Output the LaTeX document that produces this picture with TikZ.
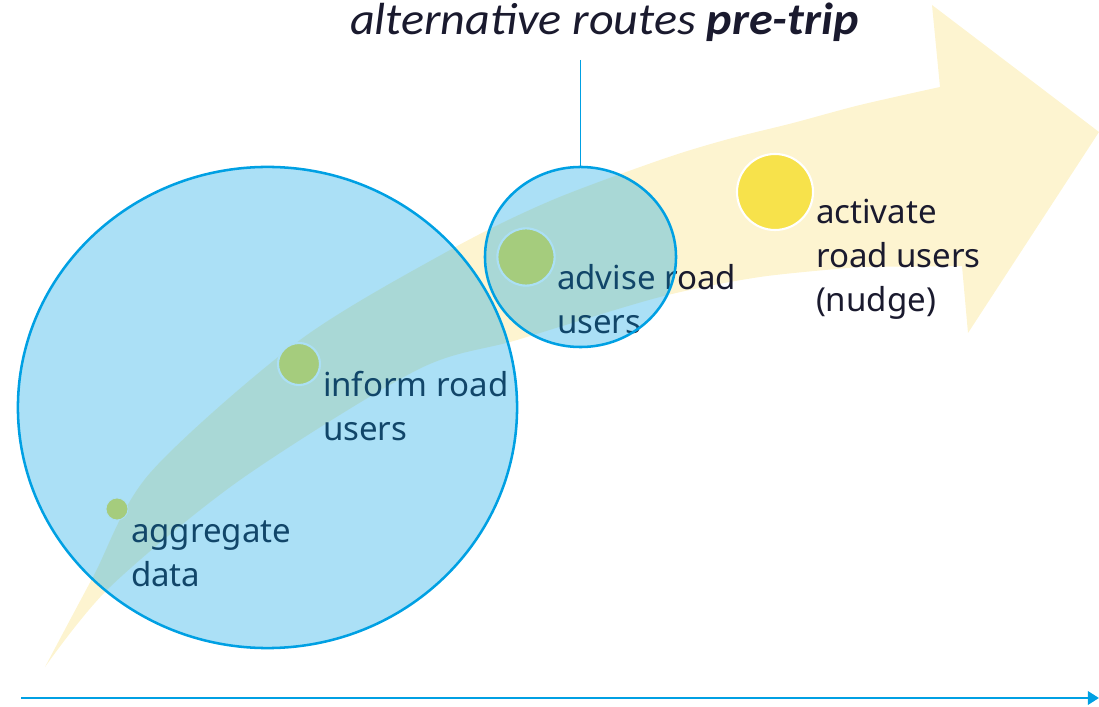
\documentclass[tikz,border=0pt]{standalone}
\usepackage{fontspec}
\setmainfont{Noto Sans}
\newfontfamily\titlefont[FakeStretch=1.07]{Carlito}
\usetikzlibrary{shapes.geometric,arrows.meta}
\definecolor{bandyellow}{RGB}{253,244,208}
\definecolor{ringblue}{RGB}{0,160,227}
\definecolor{dotyellow}{RGB}{247,226,75}
\definecolor{labelnavy}{RGB}{26,26,46}
\begin{document}
\begin{tikzpicture}[x=0.025cm,y=-0.025cm,
    every node/.style={inner sep=0pt,outer sep=0pt},
    band/.style={fill=bandyellow},
    dot/.style={circle,fill=dotyellow,draw=white,line width=1.5pt},
    steptext/.style={anchor=base west,align=left,text=labelnavy,font=\fontsize{23.5pt}{31.5pt}\selectfont},
    stage/.style={ellipse,draw=ringblue,line width=1.8pt,fill=ringblue,fill opacity=0.33,draw opacity=1}
    ]
    \useasboundingbox (0,0) rectangle (1099,707);

    \fill[band] plot[smooth] coordinates {(45,667) (93,577) (150,473) (300,340) (450,250) (550,201) (660,160) (725,140) (793,123) (860,105) (940,87)} -- (932,5) -- (1099,132) -- (968,333) -- (962,266) -- plot[smooth] coordinates {(860,267) (760,277) (660,297) (517,340) (417,370) (240,480) (110,587) (45,667)} -- cycle;

    \node[dot,minimum size=0.55cm,line width=0.6pt] (aggdot) at (117,509) {};
    \node[dot,minimum size=1.05cm] (infodot) at (299,364) {};
    \node[dot,minimum size=1.43cm] (advdot) at (526,257) {};
    \node[dot,minimum size=1.9cm] (actdot) at (775,192) {};

    \node[steptext] (aggtext) at (131,587) {aggregate\\data};
    \node[steptext] (infotext) at (323,441) {inform road\\users};
    \node[steptext] (advtext) at (557,334) {advise road\\users};
    \node[steptext] (acttext) at (816,312) {activate\\road users\\(nudge)};

    \node[stage,minimum width=12.475cm,minimum height=12.025cm] (bigstage) at (267.5,407.5) {};
    \node[stage,minimum width=4.775cm,minimum height=4.5cm] (smallstage) at (580.5,257) {};

    \node[anchor=base west,text=labelnavy,font=\titlefont\fontsize{32pt}{36pt}\selectfont\itshape] (title) at (350,35) {alternative routes \textbf{pre-trip}};
    \coordinate (tick) at (580.5,60);
    \draw[ringblue,line width=1pt] (tick) -- (smallstage.north);

    \coordinate (axstart) at (21,698);
    \coordinate (axend) at (1099,698);
    \draw[ringblue,line width=2.1pt,-{Triangle[length=8pt,width=9.5pt]}] (axstart) -- (axend);
\end{tikzpicture}
\end{document}
